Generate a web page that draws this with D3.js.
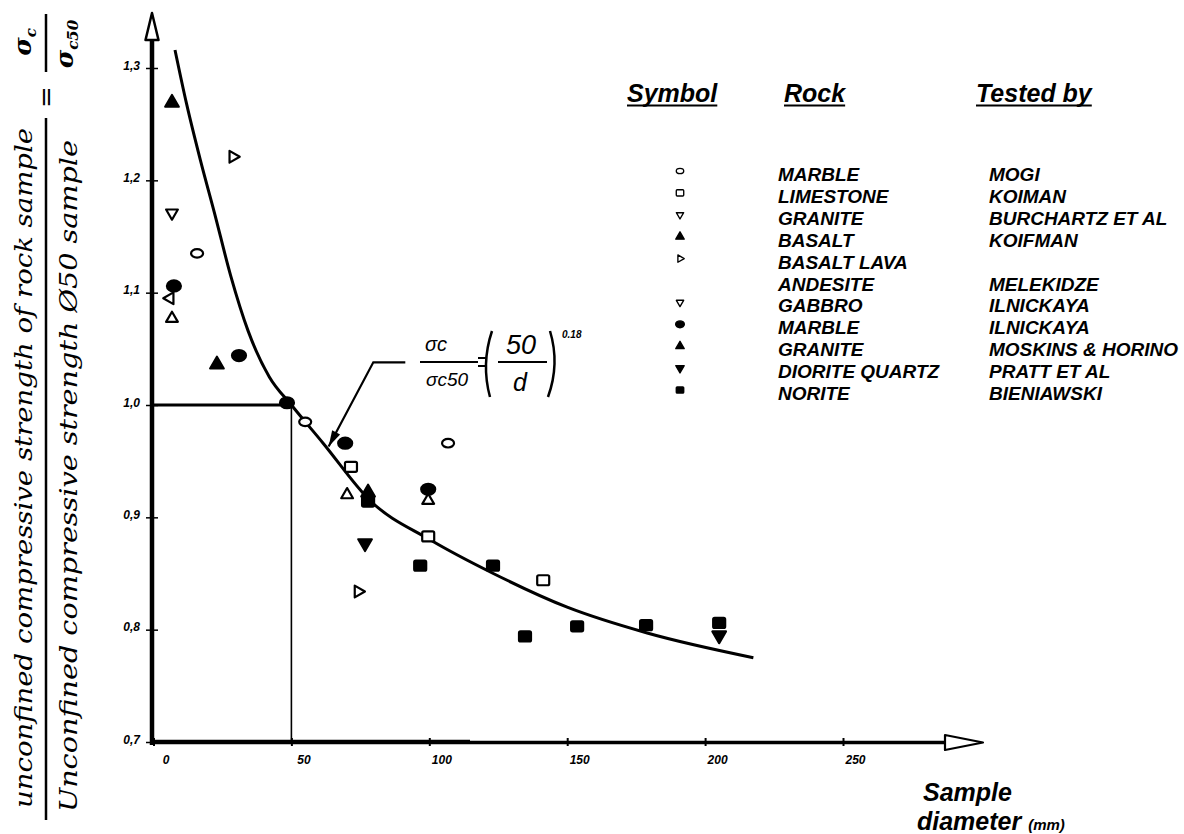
<!DOCTYPE html>
<html>
<head>
<meta charset="utf-8">
<script src="https://cdn.jsdelivr.net/npm/d3@7"></script>
<style>
  body { margin: 0; background: #fff; }
  svg { display: block; }
  .tick-label { font-family: "Liberation Sans", Arial, sans-serif; font-style: italic; font-weight: bold; font-size: 12px; }
  .legend-head { font-family: "Liberation Sans", Arial, sans-serif; font-style: italic; font-weight: bold; font-size: 25px; }
  .legend-row { font-family: "Liberation Sans", Arial, sans-serif; font-style: italic; font-weight: bold; font-size: 19px; }
  .ylab { font-family: "DejaVu Serif", serif; font-style: italic; font-size: 25px; }
  .eq { font-family: "Liberation Sans", Arial, sans-serif; font-style: italic; }
</style>
</head>
<body>
<div id="chart"></div>
<script>
// ---- data (diameter mm, sigma_c / sigma_c50) ----
var xTicks = [0, 50, 100, 150, 200, 250];
var yTicks = [0.7, 0.8, 0.9, 1.0, 1.1, 1.2, 1.3];

// fitted curve
var curveD = [7.8, 12.0, 17.0, 22.0, 28.0, 34.3, 42.0, 50.0, 61.5, 78.5, 100.3, 123.2, 150.0, 179.0, 217.5];
var curveV = [1.316, 1.268, 1.218, 1.172, 1.115, 1.066, 1.025, 1.0, 0.966, 0.915, 0.880, 0.850, 0.820, 0.797, 0.775];

var marbleMogi = [[15.8, 1.135], [55.0, 0.985], [106.8, 0.966]];
var limestoneKoiman = [[71.6, 0.945], [99.6, 0.883], [141.3, 0.844]];
var graniteBurchartz = [[6.7, 1.171]];
var basaltKoifman = [[6.7, 1.269], [23.0, 1.036]];
var basaltLava = [[28.8, 1.221], [74.2, 0.834]];
var andesiteMelekidze = [[6.7, 1.077], [70.2, 0.920], [99.6, 0.915]];
var gabbroIlnickaya = [[6.0, 1.095]];
var marbleIlnickaya = [[7.4, 1.106], [31.0, 1.044], [48.4, 1.002], [69.5, 0.966], [99.6, 0.925]];
var graniteMoskins = [[77.8, 0.922]];
var dioriteQuartzPratt = [[76.7, 0.877], [205.1, 0.795]];
var noriteBieniawski = [[77.8, 0.914], [96.7, 0.857], [123.1, 0.857], [134.7, 0.794], [153.6, 0.803], [178.6, 0.804], [205.1, 0.806]];

var rockNames = ["MARBLE", "LIMESTONE", "GRANITE", "BASALT", "BASALT LAVA", "ANDESITE", "GABBRO", "MARBLE", "GRANITE", "DIORITE QUARTZ", "NORITE"];
var testers = ["MOGI", "KOIMAN", "BURCHARTZ ET AL", "KOIFMAN", "", "MELEKIDZE", "ILNICKAYA", "ILNICKAYA", "MOSKINS & HORINO", "PRATT ET AL", "BIENIAWSKI"];
var legendShapes = ["circleOpen", "squareOpen", "downOpen", "upFilled", "rightOpen", "none", "downOpen", "circleFilled", "upFilled", "downFilled", "squareFilled"];

// which marker each set of points uses in the plot
var plotSeries = [
    {pts: marbleMogi, shape: "circleOpen"},
    {pts: limestoneKoiman, shape: "squareOpen"},
    {pts: graniteBurchartz, shape: "downOpen"},
    {pts: basaltKoifman, shape: "upFilled"},
    {pts: basaltLava, shape: "rightOpen"},
    {pts: andesiteMelekidze, shape: "upOpen"},
    {pts: gabbroIlnickaya, shape: "leftOpen"},
    {pts: marbleIlnickaya, shape: "circleFilled"},
    {pts: graniteMoskins, shape: "upFilled"},
    {pts: dioriteQuartzPratt, shape: "downFilled"},
    {pts: noriteBieniawski, shape: "squareFilled"}
];

var width = 1184, height = 834;

var svg = d3.select("#chart").append("svg")
    .attr("width", width)
    .attr("height", height);

svg.append("rect").attr("width", width).attr("height", height).attr("fill", "#fff");

var x = d3.scaleLinear().domain([0, 250]).range([153.5, 843]);
var y = d3.scaleLinear().domain([0.7, 1.3]).range([742, 68]);

// draws one marker; s is a scale factor (plot = 1, legend smaller)
function drawMarker(g, shape, cx, cy, s) {
    var filled = shape.indexOf("Filled") > -1;
    var fill = filled ? "#000" : "#fff";
    var sw = 2.2 * s;
    if (shape == "none") return;
    if (shape.indexOf("circle") == 0) {
        g.append("ellipse")
            .attr("cx", cx).attr("cy", cy)
            .attr("rx", (filled ? 7 : 6) * s).attr("ry", (filled ? 5.5 : 4.3) * s)
            .attr("fill", fill).attr("stroke", "#000").attr("stroke-width", sw);
    } else if (shape.indexOf("square") == 0) {
        var w = 12 * s, h = 10 * s;
        g.append("rect")
            .attr("x", cx - w / 2).attr("y", cy - h / 2)
            .attr("width", w).attr("height", h).attr("rx", 1.5 * s)
            .attr("fill", fill).attr("stroke", "#000").attr("stroke-width", sw);
    } else {
        var rot = {up: 0, down: 180, right: 90, left: -90};
        var dir = shape.replace("Filled", "").replace("Open", "");
        g.append("path")
            .attr("d", d3.symbol(d3.symbolTriangle, (filled ? 80 : 60) * s * s)())
            .attr("transform", "translate(" + cx + "," + cy + ") rotate(" + rot[dir] + ")")
            .attr("fill", fill).attr("stroke", "#000").attr("stroke-width", sw)
            .attr("stroke-linejoin", "round");
    }
}

// ---- axes ----
var axisG = svg.append("g");

// y axis line with open arrow
axisG.append("line")
    .attr("x1", 152).attr("x2", 152)
    .attr("y1", 745).attr("y2", 40)
    .attr("stroke", "#000").attr("stroke-width", 4.5);
axisG.append("path")
    .attr("d", "M152,13 L158.5,40 L145.5,40 Z")
    .attr("fill", "#fff").attr("stroke", "#000").attr("stroke-width", 2.5)
    .attr("stroke-linejoin", "round");

// x axis line with open arrow
axisG.append("line")
    .attr("x1", 150).attr("x2", 470)
    .attr("y1", 742).attr("y2", 742)
    .attr("stroke", "#000").attr("stroke-width", 4.5);
axisG.append("line")
    .attr("x1", 470).attr("x2", 946)
    .attr("y1", 742.5).attr("y2", 742.5)
    .attr("stroke", "#000").attr("stroke-width", 3.5);
axisG.append("path")
    .attr("d", "M945,735 L983,742.5 L945,750 Z")
    .attr("fill", "#fff").attr("stroke", "#000").attr("stroke-width", 2.2)
    .attr("stroke-linejoin", "round");

var xAxis = d3.axisBottom(x).tickValues(xTicks).tickSize(8).tickSizeOuter(0).tickFormat(d3.format("d"));
var gx = svg.append("g")
    .attr("transform", "translate(0," + (742 - 4) + ")")
    .call(xAxis);
gx.select(".domain").remove();
gx.selectAll(".tick line").attr("stroke", "#000").attr("stroke-width", 2);
gx.selectAll(".tick text")
    .attr("class", "tick-label")
    .attr("x", 12).attr("y", 17)
    .attr("fill", "#000");

var yAxis = d3.axisLeft(y).tickValues(yTicks).tickSize(12).tickSizeOuter(0)
    .tickFormat(function(d){ return d3.format(".1f")(d).replace(".", ","); });
var gy = svg.append("g")
    .attr("transform", "translate(158,0)")
    .call(yAxis);
gy.select(".domain").remove();
gy.selectAll(".tick line").attr("stroke", "#000").attr("stroke-width", 1.5);
gy.selectAll(".tick text")
    .attr("class", "tick-label")
    .attr("x", -18).attr("dy", "0.1em")
    .attr("fill", "#000");

// ---- reference lines at d = 50 ----
svg.append("line")
    .attr("x1", x(0)).attr("x2", x(50))
    .attr("y1", y(1.0)).attr("y2", y(1.0))
    .attr("stroke", "#000").attr("stroke-width", 3);
svg.append("line")
    .attr("x1", x(50)).attr("x2", x(50))
    .attr("y1", y(1.0)).attr("y2", y(0.7))
    .attr("stroke", "#000").attr("stroke-width", 1.6);

// ---- fitted curve ----
var curvePts = curveD.map(function(d, i){ return [d, curveV[i]]; });
var line = d3.line()
    .x(function(d){ return x(d[0]); })
    .y(function(d){ return y(d[1]); })
    .curve(d3.curveMonotoneX);
svg.append("path")
    .datum(curvePts)
    .attr("d", line)
    .attr("fill", "none")
    .attr("stroke", "#000")
    .attr("stroke-width", 3);

// ---- data points ----
var pointsG = svg.append("g");
plotSeries.forEach(function(s){
    s.pts.forEach(function(p){
        drawMarker(pointsG, s.shape, x(p[0]), y(p[1]), 1);
    });
});

// ---- equation annotation with leader arrow ----
var leader = [[91.3, 1.038], [79.7, 1.038], [63.5, 0.963]];
svg.append("path")
    .datum(leader)
    .attr("d", d3.line().x(function(d){ return x(d[0]); }).y(function(d){ return y(d[1]); }))
    .attr("fill", "none").attr("stroke", "#000").attr("stroke-width", 2.2);
var tip = [x(leader[2][0]), y(leader[2][1])];
var ang = Math.atan2(y(leader[2][1]) - y(leader[1][1]), x(leader[2][0]) - x(leader[1][0])) * 180 / Math.PI;
svg.append("path")
    .attr("d", "M0,0 L-16,-4.5 L-16,4.5 Z")
    .attr("transform", "translate(" + tip[0] + "," + tip[1] + ") rotate(" + ang + ")")
    .attr("fill", "#000");

var eq = svg.append("g").attr("transform", "translate(420,362)").attr("class", "eq");
eq.append("text").attr("x", 16).attr("y", -11).attr("text-anchor", "middle")
    .attr("font-size", 20).text("σc");
eq.append("line").attr("x1", 0).attr("x2", 58).attr("y1", 0).attr("y2", 0)
    .attr("stroke", "#000").attr("stroke-width", 2);
eq.append("text").attr("x", 27).attr("y", 24).attr("text-anchor", "middle")
    .attr("font-size", 19).text("σc50");
eq.append("line").attr("x1", 58).attr("x2", 67).attr("y1", -4).attr("y2", -4)
    .attr("stroke", "#000").attr("stroke-width", 2);
eq.append("line").attr("x1", 58).attr("x2", 67).attr("y1", 4).attr("y2", 4)
    .attr("stroke", "#000").attr("stroke-width", 2);
eq.append("path").attr("d", "M72,-31 Q61,2 70,35").attr("fill", "none")
    .attr("stroke", "#000").attr("stroke-width", 2.5);
eq.append("path").attr("d", "M130,-31 Q140,2 128,35").attr("fill", "none")
    .attr("stroke", "#000").attr("stroke-width", 2.5);
eq.append("text").attr("x", 101).attr("y", -8).attr("text-anchor", "middle")
    .attr("font-size", 27).text("50");
eq.append("line").attr("x1", 78).attr("x2", 127).attr("y1", 0).attr("y2", 0)
    .attr("stroke", "#000").attr("stroke-width", 2);
eq.append("text").attr("x", 100).attr("y", 29).attr("text-anchor", "middle")
    .attr("font-size", 25).text("d");
eq.append("text").attr("x", 142).attr("y", -24)
    .attr("font-size", 10).attr("font-weight", "bold").text("0.18");

// ---- y axis title (fraction) ----
var yl = svg.append("g").attr("transform", "rotate(-90)").attr("class", "ylab");
yl.append("text")
    .attr("x", -468).attr("y", 32).attr("text-anchor", "middle")
    .attr("textLength", 680).attr("lengthAdjust", "spacingAndGlyphs")
    .text("unconfined compressive strength of rock sample");
yl.append("line")
    .attr("x1", -820).attr("x2", -118).attr("y1", 46).attr("y2", 46)
    .attr("stroke", "#000").attr("stroke-width", 2.5);
yl.append("text")
    .attr("x", -476).attr("y", 77).attr("text-anchor", "middle")
    .attr("textLength", 672).attr("lengthAdjust", "spacingAndGlyphs")
    .text("Unconfined compressive strength Ø50 sample");
yl.append("text")
    .attr("x", -97).attr("y", 55).attr("text-anchor", "middle")
    .attr("font-style", "normal").attr("font-size", 26).text("=");
var sTop = yl.append("text").attr("x", -42).attr("y", 31).attr("text-anchor", "middle")
    .attr("font-weight", "bold").attr("font-size", 25);
sTop.append("tspan").text("σ");
sTop.append("tspan").attr("font-size", 15).attr("dy", 5).text("c");
yl.append("line")
    .attr("x1", -72).attr("x2", -14).attr("y1", 46).attr("y2", 46)
    .attr("stroke", "#000").attr("stroke-width", 2.5);
var sBot = yl.append("text").attr("x", -44).attr("y", 73).attr("text-anchor", "middle")
    .attr("font-weight", "bold").attr("font-size", 25);
sBot.append("tspan").text("σ");
sBot.append("tspan").attr("font-size", 15).attr("dy", 5).text("c50");

// ---- x axis title ----
var xt = svg.append("g").attr("class", "legend-row");
xt.append("text").attr("x", 923).attr("y", 801).attr("font-size", 25).text("Sample");
var xt2 = xt.append("text").attr("x", 917).attr("y", 830).attr("font-size", 25);
xt2.append("tspan").text("diameter ");
xt2.append("tspan").attr("font-size", 15).text("(mm)");

// ---- legend ----
var legend = svg.append("g");
var heads = [["Symbol", 627], ["Rock", 784], ["Tested by", 976]];
heads.forEach(function(h){
    var t = legend.append("text").attr("class", "legend-head")
        .attr("x", h[1]).attr("y", 102).text(h[0]);
    var w = t.node().getComputedTextLength();
    legend.append("line")
        .attr("x1", h[1]).attr("x2", h[1] + w)
        .attr("y1", 105.5).attr("y2", 105.5)
        .attr("stroke", "#000").attr("stroke-width", 2);
});

var rowY = d3.scaleLinear().domain([0, rockNames.length - 1]).range([181, 400]);
rockNames.forEach(function(name, i){
    legend.append("text").attr("class", "legend-row")
        .attr("x", 778).attr("y", rowY(i)).text(name);
    if (testers[i] != "") {
        legend.append("text").attr("class", "legend-row")
            .attr("x", 989).attr("y", rowY(i)).text(testers[i]);
    }
    drawMarker(legend, legendShapes[i], 680, rowY(i) - 10, 0.62);
});
</script>
</body>
</html>
